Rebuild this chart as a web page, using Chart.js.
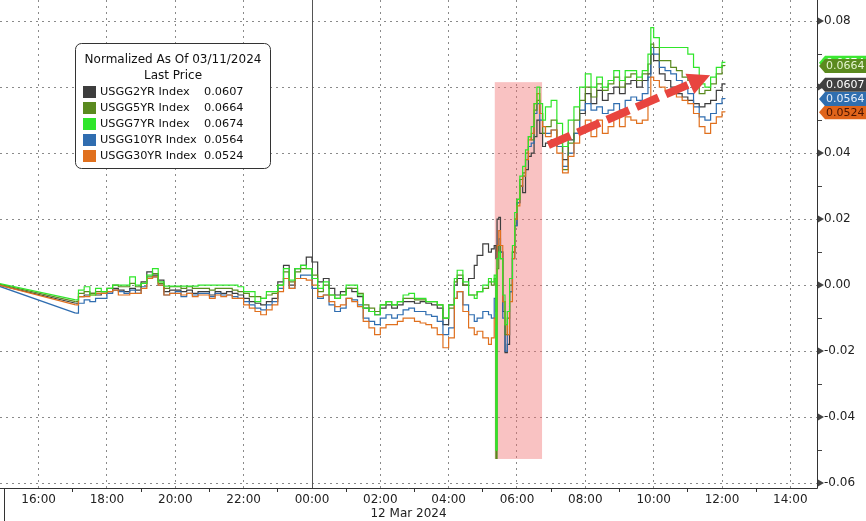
<!DOCTYPE html>
<html>
<head>
<meta charset="utf-8">
<script src="https://cdn.jsdelivr.net/npm/chart.js@4.4.1/dist/chart.umd.min.js"></script>
<style>
html,body{margin:0;padding:0;background:#fff;}
#wrap{width:866px;height:521px;}
</style>
</head>
<body>
<div id="wrap"><canvas id="myChart" width="866" height="521"></canvas></div>
<script>
// times of day, 11 Mar (>= 13:00) then 12 Mar
var times = ['14:50',
  '17:05','17:10','17:20','17:30','17:40','17:50',
  '18:00','18:10','18:20','18:30','18:40','18:50',
  '19:00','19:10','19:20','19:30','19:40','19:50',
  '20:00','20:10','20:20','20:30','20:40','20:50',
  '21:00','21:10','21:20','21:30','21:40','21:50',
  '22:00','22:10','22:20','22:30','22:40','22:50',
  '23:00','23:10','23:20','23:30','23:40','23:50',
  '00:00','00:10','00:20','00:30','00:40','00:50',
  '01:00','01:10','01:20','01:30','01:40','01:50',
  '02:00','02:10','02:20','02:30','02:40','02:50',
  '03:00','03:10','03:20','03:30','03:40','03:50',
  '04:00','04:10','04:15','04:25','04:35','04:45','04:50',
  '05:00','05:10','05:15','05:20','05:23','05:25','05:28','05:31','05:35','05:39','05:43','05:47','05:52','05:56',
  '06:00','06:05','06:10','06:15','06:20','06:25','06:30','06:35','06:40','06:45','06:50',
  '07:00','07:10','07:20','07:30','07:40','07:50',
  '08:00','08:10','08:20','08:30','08:40','08:50',
  '09:00','09:10','09:20','09:30','09:40','09:50','09:55',
  '10:00','10:10','10:20','10:30','10:40','10:50',
  '11:00','11:10','11:20','11:30','11:40','11:50',
  '12:00','12:05'];

var usgg2 = [0,
  -0.0055,-0.0035,-0.003,-0.0025,-0.003,-0.0025,
  -0.002,-0.001,-0.0015,-0.002,-0.001,-0.0015,
  0.001,0.004,0.003,0.0015,-0.002,-0.0015,
  -0.0015,-0.002,-0.0015,-0.0025,-0.002,-0.002,
  -0.003,-0.002,-0.0025,-0.002,-0.0025,-0.003,
  -0.004,-0.005,-0.0055,-0.006,-0.005,-0.004,
  0.001,0.006,0,0.005,0.006,0.0085,
  0.007,0.001,0.002,-0.001,-0.003,-0.002,
  -0.001,-0.002,-0.0035,-0.007,-0.008,-0.009,
  -0.007,-0.006,-0.007,-0.006,-0.005,-0.005,
  -0.0055,-0.005,-0.0055,-0.006,-0.007,-0.012,
  -0.006,0,0.002,0,0.002,0.006,0.009,
  0.0125,0.01,0.011,0.012,0.008,0.02,0.0205,0.01,-0.008,-0.0205,-0.018,-0.002,0.01,0.018,
  0.025,0.03,0.028,0.035,0.039,0.04,0.045,0.05,0.046,0.042,0.043,
  0.044,0.042,0.038,0.044,0.046,0.052,
  0.058,0.055,0.059,0.056,0.058,0.06,
  0.058,0.061,0.062,0.06,0.062,0.064,0.07,
  0.068,0.064,0.062,0.06,0.058,0.057,
  0.056,0.055,0.054,0.055,0.056,0.059,
  0.061,0.0607];

var usgg5 = [0.0003,
  -0.005,-0.0025,-0.002,-0.0025,-0.002,-0.002,
  -0.001,0,-0.0005,-0.0005,0.0005,-0.0005,
  0.0005,0.0025,0.0035,0.0005,-0.001,-0.0005,
  -0.0005,-0.001,-0.0005,-0.001,-0.001,-0.001,
  -0.0015,-0.001,-0.001,-0.001,-0.0015,-0.002,
  -0.0025,-0.0035,-0.0035,-0.004,-0.003,-0.0025,
  0,0.004,0.001,0.004,0.005,0.005,
  0.003,-0.002,0,-0.003,-0.004,-0.003,
  -0.001,-0.001,-0.0025,-0.006,-0.007,-0.008,
  -0.006,-0.005,-0.006,-0.005,-0.004,-0.004,
  -0.0045,-0.0045,-0.005,-0.005,-0.006,-0.01,
  -0.007,0.001,0.003,0,-0.003,-0.003,-0.002,
  -0.001,0.001,0,0.002,-0.0525,0.005,0.012,0.008,-0.005,-0.015,-0.01,0,0.01,0.02,
  0.026,0.032,0.034,0.04,0.045,0.044,0.053,0.056,0.052,0.046,0.048,
  0.05,0.043,0.035,0.043,0.05,0.056,
  0.06,0.057,0.061,0.059,0.061,0.063,
  0.06,0.063,0.064,0.062,0.064,0.067,0.073,
  0.072,0.068,0.068,0.066,0.065,0.063,
  0.062,0.06,0.058,0.059,0.061,0.064,
  0.0665,0.0664];

var usgg7 = [0.0005,
  -0.0045,-0.0015,-0.0005,-0.003,-0.001,-0.002,
  -0.001,0,0,0,0.0025,0,
  0.0005,0.003,0.005,0.001,-0.0003,-0.0003,
  -0.0003,-0.0003,-0.0003,-0.0003,0,0,
  0,0,0,0,0,-0.0005,
  -0.002,-0.002,-0.005,-0.004,-0.002,-0.002,
  0,0.005,0.0015,0.005,0.006,0.005,
  0.002,-0.001,0.001,-0.003,-0.004,-0.003,
  0,0,-0.003,-0.007,-0.008,-0.009,
  -0.006,-0.005,-0.006,-0.005,-0.003,-0.0025,
  -0.004,-0.004,-0.005,-0.005,-0.006,-0.01,
  -0.006,0.002,0.0045,0.001,-0.003,-0.004,-0.002,
  0,0.002,0.001,0.003,-0.05,0.008,0.01,0.008,-0.003,-0.012,-0.008,0.002,0.012,0.022,
  0.026,0.033,0.036,0.041,0.045,0.048,0.055,0.06,0.055,0.05,0.054,
  0.056,0.049,0.042,0.05,0.054,0.06,
  0.064,0.06,0.063,0.06,0.062,0.065,
  0.062,0.065,0.065,0.063,0.065,0.07,0.078,
  0.075,0.072,0.072,0.072,0.072,0.072,
  0.07,0.066,0.061,0.06,0.063,0.066,
  0.0675,0.0674];

var usgg10 = [-0.0003,
  -0.0085,-0.0055,-0.0045,-0.005,-0.004,-0.004,
  -0.0025,-0.0015,-0.002,-0.0025,-0.0015,-0.0025,
  -0.0005,0.002,0.0025,0,-0.003,-0.0025,
  -0.002,-0.0035,-0.0025,-0.003,-0.0025,-0.0025,
  -0.0035,-0.0025,-0.003,-0.003,-0.0035,-0.004,
  -0.005,-0.006,-0.007,-0.0075,-0.006,-0.005,
  -0.001,0.002,-0.001,0.002,0.003,0.003,
  -0.001,-0.004,-0.003,-0.006,-0.008,-0.007,
  -0.004,-0.0045,-0.006,-0.01,-0.011,-0.012,
  -0.01,-0.009,-0.01,-0.009,-0.0075,-0.007,
  -0.008,-0.008,-0.009,-0.0095,-0.011,-0.015,
  -0.013,-0.004,-0.002,-0.006,-0.009,-0.011,-0.01,
  -0.008,-0.009,-0.01,-0.004,-0.008,0.01,0.014,0.01,-0.01,-0.02,-0.015,-0.002,0.008,0.018,
  0.025,0.03,0.033,0.038,0.042,0.043,0.052,0.055,0.05,0.046,0.046,
  0.047,0.042,0.036,0.04,0.046,0.053,
  0.055,0.053,0.054,0.052,0.053,0.055,
  0.053,0.056,0.057,0.056,0.058,0.063,0.072,
  0.07,0.066,0.065,0.064,0.062,0.06,
  0.058,0.054,0.051,0.05,0.052,0.055,
  0.0565,0.0564];

var usgg30 = [0,
  -0.006,-0.0035,-0.0035,-0.003,-0.0025,-0.0025,
  -0.002,-0.0015,-0.003,-0.003,-0.0025,-0.0025,
  -0.001,0.002,0.0025,0,-0.003,-0.0025,
  -0.0025,-0.003,-0.0025,-0.0035,-0.003,-0.003,
  -0.004,-0.003,-0.0035,-0.003,-0.004,-0.004,
  -0.006,-0.007,-0.008,-0.009,-0.0075,-0.006,
  -0.002,0.002,-0.001,0.002,0.002,0.0015,
  0,-0.0035,-0.003,-0.005,-0.0065,-0.006,
  -0.004,-0.005,-0.0065,-0.011,-0.013,-0.015,
  -0.013,-0.012,-0.012,-0.011,-0.01,-0.01,
  -0.011,-0.0115,-0.012,-0.013,-0.015,-0.019,
  -0.016,-0.004,-0.002,-0.008,-0.013,-0.015,-0.014,
  -0.016,-0.018,-0.016,-0.01,-0.012,0.012,0.0165,0.012,-0.005,-0.012,-0.015,-0.005,0.008,0.02,
  0.024,0.03,0.033,0.038,0.044,0.046,0.055,0.058,0.052,0.048,0.045,
  0.047,0.04,0.034,0.039,0.043,0.047,
  0.05,0.045,0.05,0.046,0.048,0.051,
  0.048,0.051,0.05,0.049,0.05,0.055,0.063,
  0.062,0.06,0.059,0.058,0.057,0.056,
  0.055,0.052,0.048,0.046,0.049,0.051,
  0.0525,0.0524];

var names = ['USGG2YR Index','USGG5YR Index','USGG7YR Index','USGG10YR Index','USGG30YR Index'];
var lastPrice = ['0.0607','0.0664','0.0674','0.0564','0.0524'];
var colors = ['#3d3d3d','#5a8a1f','#2fe62a','#2f6db0','#e0701e'];
var boxColors = ['#404040','#5b8a1f','#3ce832','#2f6eaf','#e0641a'];
var boxText = ['#ffffff','#e4f4cf','#ffffff','#e6edf8','#4a1400'];
var drawOrder = [4,2,0,3,1];

var xTicks = [-9,-8,-7,-6,-5,-4,-3,-2,-1,0,1,2,3,4,5,6,7,8,9,10,11,12,13,14];
var yTicks = [-0.06,-0.05,-0.04,-0.03,-0.02,-0.01,0,0.01,0.02,0.03,0.04,0.05,0.06,0.07,0.08];

var shadeFrom = '05:21', shadeTo = '06:44', shadeLow = -0.0527, shadeHigh = 0.0615;
var arrowFrom = ['06:55', 0.0424], arrowTo = ['11:39', 0.0636];

var FONT = 'DejaVu Sans';

function toHours(t){
  var p = t.split(':');
  var h = +p[0] + (+p[1]) / 60;
  return h >= 13 ? h - 24 : h;
}
function isEven(v){ return Math.abs(Math.round(v * 100)) % 2 === 0; }

var series = [usgg2, usgg5, usgg7, usgg10, usgg30];
var datasets = [];
series.forEach(function(vals, i){
  var pts = vals.map(function(v, j){ return {x: toHours(times[j]), y: v}; });
  // ticking data, held until the next print
  datasets.push({
    label: names[i], data: pts.slice(1), borderColor: colors[i], backgroundColor: colors[i],
    borderWidth: 1.2, pointRadius: 0, stepped: true, order: drawOrder[i]
  });
});
series.forEach(function(vals, i){
  // the overnight gap is bridged by a straight line
  datasets.push({
    label: names[i] + ' gap',
    data: [0, 1].map(function(j){ return {x: toHours(times[j]), y: vals[j]}; }),
    borderColor: colors[i], borderWidth: 1.2, pointRadius: 0, order: drawOrder[i]
  });
});

var extras = {
  id: 'extras',
  beforeDatasetsDraw: function(chart){
    var ctx = chart.ctx, xs = chart.scales.x, ys = chart.scales.y, a = chart.chartArea;
    ctx.save();
    var x1 = xs.getPixelForValue(toHours(shadeFrom)), x2 = xs.getPixelForValue(toHours(shadeTo));
    var y1 = ys.getPixelForValue(shadeHigh), y2 = ys.getPixelForValue(shadeLow);
    ctx.fillStyle = 'rgba(240,110,110,0.42)';
    ctx.fillRect(x1, y1, x2 - x1, y2 - y1);
    var xm = Math.round(xs.getPixelForValue(0)) + 0.5;
    ctx.strokeStyle = '#555';
    ctx.lineWidth = 1;
    ctx.beginPath(); ctx.moveTo(xm, a.top); ctx.lineTo(xm, a.bottom); ctx.stroke();
    ctx.restore();
  },
  afterDatasetsDraw: function(chart){
    var ctx = chart.ctx, xs = chart.scales.x, ys = chart.scales.y, a = chart.chartArea;
    ctx.save();

    // dashed arrow
    var px1 = xs.getPixelForValue(toHours(arrowFrom[0])), py1 = ys.getPixelForValue(arrowFrom[1]);
    var px2 = xs.getPixelForValue(toHours(arrowTo[0])), py2 = ys.getPixelForValue(arrowTo[1]);
    var ang = Math.atan2(py2 - py1, px2 - px1);
    var headLen = 22, headW = 11;
    var bx = px2 - headLen * Math.cos(ang), by = py2 - headLen * Math.sin(ang);
    ctx.strokeStyle = '#e8453f';
    ctx.fillStyle = '#e8453f';
    ctx.lineWidth = 8;
    ctx.setLineDash([24, 8]);
    ctx.beginPath(); ctx.moveTo(px1, py1); ctx.lineTo(bx + 2 * Math.cos(ang), by + 2 * Math.sin(ang)); ctx.stroke();
    ctx.setLineDash([]);
    ctx.beginPath();
    ctx.moveTo(px2, py2);
    ctx.lineTo(bx + headW * Math.sin(ang), by - headW * Math.cos(ang));
    ctx.lineTo(bx - headW * Math.sin(ang), by + headW * Math.cos(ang));
    ctx.closePath(); ctx.fill();

    // legend box
    var lx = 75.5, ly = 43.5, lw = 195, lh = 125;
    ctx.beginPath();
    if (ctx.roundRect) ctx.roundRect(lx, ly, lw, lh, 6); else ctx.rect(lx, ly, lw, lh);
    ctx.fillStyle = '#ffffff'; ctx.fill();
    ctx.strokeStyle = '#333'; ctx.lineWidth = 1; ctx.stroke();
    ctx.fillStyle = '#111';
    ctx.font = '12px "' + FONT + '"';
    ctx.textBaseline = 'middle';
    ctx.textAlign = 'center';
    ctx.fillText('Normalized As Of 03/11/2024', lx + lw / 2, 60);
    ctx.fillText('Last Price', lx + lw / 2, 76);
    ctx.textAlign = 'left';
    ctx.font = '11.3px "' + FONT + '"';
    for (var i = 0; i < names.length; i++) {
      var ry = 92 + i * 16;
      ctx.fillStyle = colors[i];
      ctx.fillRect(83, ry - 6, 13, 12);
      ctx.fillStyle = '#111';
      ctx.fillText(names[i], 100, ry);
      ctx.fillText(lastPrice[i], 204, ry);
    }

    ctx.restore();
  },
  afterDraw: function(chart){
    var ctx = chart.ctx, xs = chart.scales.x, ys = chart.scales.y, a = chart.chartArea;
    ctx.save();
    // axis lines
    ctx.strokeStyle = '#333'; ctx.lineWidth = 1;
    ctx.beginPath();
    ctx.moveTo(0, a.bottom + 0.5); ctx.lineTo(a.right + 0.5, a.bottom + 0.5);
    ctx.moveTo(a.right + 0.5, 0); ctx.lineTo(a.right + 0.5, a.bottom + 0.5);
    // day-label divider under the first tick
    var xd = Math.round(xs.getPixelForValue(xTicks[0])) + 0.5;
    ctx.moveTo(xd, a.bottom); ctx.lineTo(xd, chart.height);
    ctx.stroke();

    // axis triangles at major ticks
    ctx.fillStyle = '#444';
    yTicks.forEach(function(v){
      if (!isEven(v)) return;
      var ty = ys.getPixelForValue(v);
      ctx.beginPath();
      ctx.moveTo(a.right + 1, ty - 3.5); ctx.lineTo(a.right + 7, ty); ctx.lineTo(a.right + 1, ty + 3.5);
      ctx.closePath(); ctx.fill();
    });

    // last value tags
    ctx.font = '11px "' + FONT + '"';
    ctx.textBaseline = 'middle';
    ctx.textAlign = 'left';
    [2, 4, 3, 0, 1].forEach(function(i){
      var v = series[i][series[i].length - 1];
      var ty = ys.getPixelForValue(v);
      ctx.beginPath();
      ctx.moveTo(a.right + 2, ty);
      ctx.lineTo(a.right + 8, ty - 7);
      ctx.lineTo(866, ty - 7);
      ctx.lineTo(866, ty + 7);
      ctx.lineTo(a.right + 8, ty + 7);
      ctx.closePath();
      ctx.fillStyle = boxColors[i]; ctx.fill();
      ctx.fillStyle = boxText[i];
      ctx.fillText(v.toFixed(4), a.right + 9, ty + 0.5);
    });
    ctx.restore();
  }
};

var chart = new Chart(document.getElementById('myChart').getContext('2d'), {
  type: 'line',
  data: { datasets: datasets },
  options: {
    responsive: false,
    animation: false,
    layout: { padding: 0 },
    plugins: { legend: { display: false }, tooltip: { enabled: false } },
    scales: {
      x: {
        type: 'linear',
        min: -9.13,
        max: 14.78,
        afterBuildTicks: function(s){ s.ticks = xTicks.map(function(v){ return {value: v}; }); },
        afterFit: function(s){ s.height = 33; s.paddingLeft = 0; s.paddingRight = 0; },
        ticks: {
          autoSkip: false, maxRotation: 0, padding: 1, color: '#222',
          font: { family: FONT, size: 12 },
          callback: function(v){
            if (Math.abs(v) % 2 !== 0) return '';
            var h = (v + 24) % 24;
            return (h < 10 ? '0' : '') + h + ':00';
          }
        },
        grid: {
          lineWidth: 1,
          tickLength: 4,
          color: function(c){
            if (!c.tick) return 'transparent';
            var v = c.tick.value;
            return (v === 0 || Math.abs(v) % 2 !== 0) ? 'transparent' : '#8a8a8a';
          },
          tickColor: function(c){
            if (!c.tick) return 'transparent';
            return Math.abs(c.tick.value) % 2 !== 0 ? '#333' : 'transparent';
          }
        },
        border: { display: false, dash: [2, 4] },
        title: { display: true, text: '12 Mar 2024', color: '#222', font: { family: FONT, size: 12 }, padding: 0 }
      },
      y: {
        position: 'right',
        min: -0.0615,
        max: 0.0864,
        afterBuildTicks: function(s){ s.ticks = yTicks.map(function(v){ return {value: v}; }); },
        afterFit: function(s){ s.width = 49; s.paddingTop = 0; s.paddingBottom = 0; },
        ticks: {
          autoSkip: false, padding: 2, color: '#222',
          font: { family: FONT, size: 12 },
          callback: function(v){ return isEven(v) ? v.toFixed(2) : ''; }
        },
        grid: {
          lineWidth: 1,
          tickLength: 5,
          color: function(c){
            if (!c.tick) return 'transparent';
            return isEven(c.tick.value) ? '#8a8a8a' : 'transparent';
          },
          tickColor: function(c){
            if (!c.tick) return 'transparent';
            return isEven(c.tick.value) ? 'transparent' : '#444';
          }
        },
        border: { display: false, dash: [2, 4] }
      }
    }
  },
  plugins: [extras]
});
</script>
</body>
</html>
